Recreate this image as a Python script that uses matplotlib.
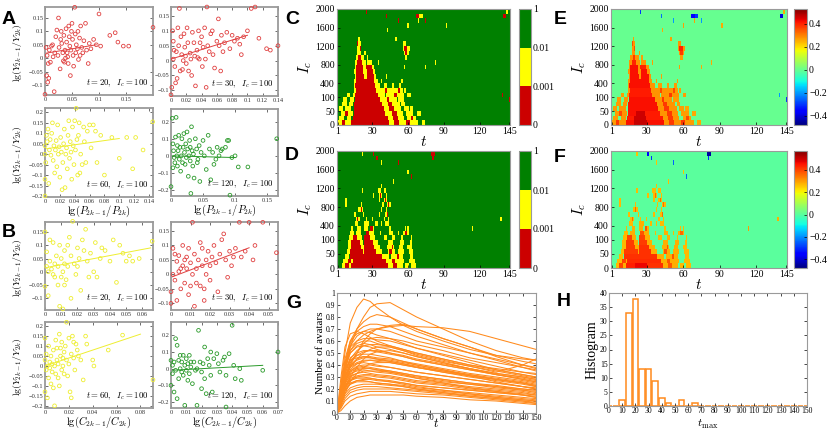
import numpy as np
import matplotlib
matplotlib.use("Agg")
import matplotlib.pyplot as plt
from matplotlib.colors import ListedColormap, BoundaryNorm, Normalize
from matplotlib.cm import ScalarMappable

plt.rcParams['font.family'] = ['Liberation Serif', 'DejaVu Serif']
plt.rcParams['mathtext.fontset'] = 'cm'

# ---------------- scatter data ----------------
A1 = [(0.000,-0.135),(0.017,-0.125),(0.005,-0.09),(0.007,-0.075),(0.003,-0.065),(0.002,0.04),(0.004,0.01),(0.006,-0.02),(0.01,-0.015),(0.012,0.045),(0.015,0.005),(0.018,0.02),(0.02,0.08),(0.022,0.105),(0.025,0.15),(0.026,0.04),(0.028,-0.04),(0.03,0.1),(0.031,0.055),(0.033,0.02),(0.034,-0.01),(0.035,0.085),(0.037,0.03),(0.038,0.0),(0.039,0.11),(0.04,0.06),(0.041,0.02),(0.042,0.005),(0.043,-0.02),(0.044,0.12),(0.045,0.08),(0.046,0.045),(0.047,-0.065),(0.048,0.03),(0.05,0.13),(0.051,0.07),(0.052,0.01),(0.053,-0.03),(0.055,0.19),(0.056,0.09),(0.058,0.05),(0.06,0.035),(0.061,0.1),(0.062,-0.005),(0.064,0.075),(0.066,0.12),(0.068,0.04),(0.07,0.02),(0.072,0.065),(0.075,0.13),(0.077,0.03),(0.08,-0.02),(0.082,0.055),(0.085,0.035),(0.09,0.07),(0.095,0.05),(0.1,0.165),(0.103,0.045),(0.12,0.085),(0.13,0.095),(0.135,0.06),(0.145,0.045),(0.155,0.045),(0.2,0.115),(0.008,0.03),(0.014,0.05),(0.024,0.01),(0.029,0.07),(0.036,-0.015),(0.049,0.1),(0.057,0.02),(0.065,0.01)]
A2 = [(0.0,-0.115),(0.001,-0.09),(0.002,0.1),(0.003,0.065),(0.004,0.035),(0.003,0.005),(0.005,-0.02),(0.006,-0.075),(0.008,-0.06),(0.007,0.03),(0.009,0.11),(0.01,0.05),(0.011,0.175),(0.012,-0.035),(0.013,0.08),(0.014,0.02),(0.015,-0.03),(0.016,0.0),(0.017,0.09),(0.018,0.045),(0.019,0.015),(0.02,-0.01),(0.021,0.11),(0.022,0.06),(0.023,-0.035),(0.025,0.025),(0.026,0.005),(0.027,-0.05),(0.028,0.095),(0.03,0.06),(0.031,0.015),(0.032,-0.085),(0.034,0.035),(0.035,0.01),(0.036,0.1),(0.037,0.005),(0.038,0.06),(0.04,0.08),(0.041,-0.02),(0.042,0.045),(0.044,0.11),(0.045,0.005),(0.046,-0.09),(0.047,0.18),(0.048,0.05),(0.05,0.03),(0.052,0.09),(0.054,0.1),(0.055,0.02),(0.057,-0.025),(0.06,0.065),(0.062,0.14),(0.063,0.05),(0.065,-0.035),(0.066,0.085),(0.068,0.03),(0.07,0.06),(0.073,0.095),(0.077,0.04),(0.08,0.085),(0.083,0.065),(0.087,0.075),(0.09,0.055),(0.092,0.02),(0.095,0.08),(0.1,0.1),(0.105,0.175),(0.11,0.18),(0.115,0.075),(0.125,0.04),(0.13,0.035),(0.14,0.05)]
A3 = [(0.0,-0.2),(0.0,-0.12),(0.0,0.04),(0.0,0.0),(0.001,-0.04),(0.002,0.09),(0.003,0.06),(0.004,0.12),(0.005,-0.14),(0.006,0.02),(0.007,0.07),(0.008,-0.005),(0.009,0.1),(0.01,0.15),(0.011,-0.03),(0.012,0.04),(0.013,-0.09),(0.014,0.02),(0.015,0.065),(0.016,-0.06),(0.017,0.14),(0.018,0.0),(0.019,0.035),(0.02,-0.11),(0.021,0.08),(0.022,0.01),(0.023,-0.17),(0.024,-0.04),(0.025,0.05),(0.026,0.12),(0.027,-0.16),(0.028,0.0),(0.029,0.03),(0.03,-0.07),(0.031,0.09),(0.032,0.16),(0.033,-0.02),(0.034,0.06),(0.035,0.01),(0.036,-0.12),(0.037,0.13),(0.038,0.04),(0.039,-0.05),(0.04,0.16),(0.041,0.02),(0.042,0.22),(0.043,0.07),(0.044,-0.1),(0.045,0.09),(0.046,0.15),(0.047,-0.09),(0.048,0.0),(0.05,-0.05),(0.052,0.13),(0.053,0.06),(0.055,-0.04),(0.057,0.11),(0.06,0.14),(0.062,0.03),(0.065,0.14),(0.068,0.11),(0.07,-0.04),(0.075,0.09),(0.08,-0.1),(0.09,0.08),(0.1,-0.02),(0.11,0.08),(0.118,-0.07),(0.122,0.08),(0.132,0.02),(0.145,0.155)]
A4 = [(0.0,-0.18),(0.002,0.22),(0.003,0.07),(0.004,0.03),(0.005,-0.01),(0.006,-0.04),(0.007,0.11),(0.008,0.225),(0.009,0.0),(0.01,-0.06),(0.011,0.03),(0.012,0.12),(0.013,-0.02),(0.014,0.05),(0.015,-0.09),(0.016,0.0),(0.017,0.1),(0.018,-0.04),(0.02,0.13),(0.021,0.02),(0.022,-0.05),(0.023,0.07),(0.024,-0.01),(0.025,0.14),(0.026,0.04),(0.027,-0.12),(0.028,0.0),(0.029,0.09),(0.03,-0.03),(0.031,-0.22),(0.032,0.17),(0.033,0.03),(0.034,-0.06),(0.035,0.01),(0.036,-0.13),(0.038,0.1),(0.04,0.04),(0.042,-0.02),(0.044,0.06),(0.045,-0.15),(0.047,0.02),(0.05,0.09),(0.052,0.0),(0.055,-0.08),(0.058,0.12),(0.06,0.04),(0.062,-0.14),(0.065,0.02),(0.067,-0.05),(0.07,-0.02),(0.072,0.05),(0.075,0.0),(0.078,0.03),(0.08,0.04),(0.085,0.05),(0.088,0.09),(0.09,0.09),(0.092,-0.23),(0.095,-0.01),(0.1,0.0),(0.105,-0.065),(0.12,-0.065),(0.165,0.1),(0.003,-0.07),(0.01,0.06),(0.019,0.05),(0.03,0.05),(0.041,-0.04)]
B1 = [(0.0,0.15),(0.0,-0.055),(0.001,0.075),(0.001,0.02),(0.002,-0.09),(0.002,0.0),(0.003,0.04),(0.004,0.01),(0.005,-0.01),(0.005,0.11),(0.006,0.03),(0.007,0.06),(0.008,-0.05),(0.008,0.02),(0.009,0.1),(0.009,-0.13),(0.01,0.05),(0.01,-0.02),(0.011,0.0),(0.011,-0.14),(0.012,0.08),(0.012,0.03),(0.013,-0.03),(0.014,0.02),(0.015,0.13),(0.016,0.06),(0.016,-0.1),(0.017,0.19),(0.018,0.03),(0.019,-0.01),(0.02,0.09),(0.021,0.05),(0.022,-0.07),(0.023,0.12),(0.024,0.08),(0.025,0.16),(0.026,0.04),(0.027,-0.02),(0.028,0.07),(0.03,0.0),(0.031,0.11),(0.032,-0.02),(0.034,0.05),(0.035,0.09),(0.037,0.08),(0.04,0.04),(0.042,0.12),(0.044,-0.04),(0.046,0.1),(0.048,0.07),(0.05,0.04),(0.052,0.06),(0.054,0.04),(0.058,0.05),(0.066,0.115),(0.003,0.12),(0.006,-0.02),(0.014,0.1),(0.02,0.02),(0.012,-0.05)]
B2 = [(0.0,-0.1),(0.0,-0.06),(0.001,0.09),(0.001,0.0),(0.002,0.07),(0.002,-0.02),(0.003,0.045),(0.003,-0.09),(0.004,0.01),(0.004,0.065),(0.005,-0.05),(0.006,0.03),(0.006,0.1),(0.007,-0.03),(0.008,0.06),(0.008,0.02),(0.009,-0.07),(0.009,0.09),(0.01,0.04),(0.01,-0.04),(0.011,0.0),(0.011,0.18),(0.012,0.07),(0.012,-0.11),(0.013,0.02),(0.014,0.05),(0.015,-0.04),(0.015,0.11),(0.016,0.09),(0.016,0.03),(0.017,-0.09),(0.018,0.0),(0.018,0.05),(0.019,0.08),(0.02,-0.02),(0.021,0.06),(0.022,0.1),(0.023,0.04),(0.024,-0.06),(0.025,0.07),(0.026,0.12),(0.027,0.14),(0.028,0.05),(0.029,-0.01),(0.03,0.08),(0.031,0.03),(0.032,0.06),(0.033,0.09),(0.035,0.18),(0.036,0.06),(0.038,0.08),(0.04,0.18),(0.042,0.05),(0.043,0.1),(0.047,0.18),(0.054,0.075),(0.005,0.02),(0.013,-0.03),(0.02,0.03),(0.007,0.05),(0.017,-0.05)]
B3 = [(0.0,0.14),(0.0,-0.13),(0.0,0.03),(0.001,-0.02),(0.001,0.06),(0.002,0.0),(0.002,-0.16),(0.003,0.1),(0.003,-0.06),(0.004,0.02),(0.005,-0.09),(0.005,0.05),(0.006,-0.03),(0.006,0.01),(0.007,0.08),(0.007,-0.11),(0.008,0.0),(0.008,-0.2),(0.009,0.13),(0.009,-0.04),(0.01,0.03),(0.01,0.09),(0.011,-0.06),(0.011,0.01),(0.012,0.16),(0.012,-0.1),(0.013,0.05),(0.014,-0.02),(0.014,0.12),(0.015,0.0),(0.016,0.07),(0.016,-0.04),(0.017,0.1),(0.018,0.22),(0.018,0.03),(0.019,-0.05),(0.02,0.14),(0.02,0.01),(0.021,-0.13),(0.022,0.06),(0.022,-0.16),(0.023,0.15),(0.024,0.04),(0.025,-0.02),(0.026,0.11),(0.027,0.08),(0.028,0.05),(0.03,0.03),(0.032,-0.07),(0.034,0.15),(0.035,0.11),(0.04,0.03),(0.041,0.0),(0.053,0.08),(0.065,0.155),(0.0905,-0.07),(0.015,0.04),(0.004,-0.01),(0.024,0.12),(0.013,0.09)]
B4 = [(0.0,0.05),(0.0,-0.1),(0.001,0.02),(0.001,-0.03),(0.002,-0.14),(0.002,0.04),(0.003,0.18),(0.003,-0.01),(0.004,0.14),(0.004,-0.18),(0.005,0.05),(0.005,-0.06),(0.006,0.0),(0.006,0.08),(0.007,-0.02),(0.007,0.04),(0.008,0.08),(0.008,-0.04),(0.009,-0.22),(0.009,0.02),(0.01,0.06),(0.01,-0.01),(0.011,0.03),(0.011,-0.07),(0.012,0.08),(0.012,-0.03),(0.013,0.01),(0.014,-0.09),(0.015,0.04),(0.016,-0.01),(0.017,0.0),(0.017,-0.22),(0.018,0.23),(0.019,0.04),(0.02,-0.12),(0.021,0.03),(0.022,0.13),(0.022,-0.06),(0.023,-0.15),(0.024,0.06),(0.025,0.02),(0.026,0.1),(0.026,-0.04),(0.027,-0.14),(0.028,0.06),(0.03,0.09),(0.031,0.03),(0.032,-0.02),(0.034,0.05),(0.035,0.07),(0.036,-0.04),(0.038,0.09),(0.04,0.26),(0.041,0.02),(0.042,-0.06),(0.045,0.0),(0.046,-0.07),(0.06,-0.01),(0.07,0.1),(0.036,-0.23),(0.013,0.04),(0.02,-0.02)]

# regression line end points
A1_fit = [(0.0, 0.018), (0.095, 0.05)]
A2_fit = [(0.0, 0.005), (0.1, 0.085)]
A3_fit = [(0.0, 0.025), (0.1, 0.075)]
A4_fit = [(0.0, 0.0), (0.1, -0.01)]
B1_fit = [(0.0, 0.015), (0.065, 0.09)]
B2_fit = [(0.0, -0.01), (0.04, 0.092)]
B3_fit = [(0.0, 0.0), (0.08, 0.16)]
B4_fit = [(0.0, -0.01), (0.06, 0.02)]

# ---------------- heatmap data ----------------
IC_TICK_LABELS = ['0', '50', '100', '400', '800', '1200', '1600', '2000']
IC_TICK_ROWS = [0, 3, 6, 9, 13, 17, 21, 25]
T_TICKS = [1, 30, 60, 90, 120, 145]
N_ROWS, N_T = 25, 145

# (t_start, t_end, significance class, correlation r)
C_SEGS = {
 0: [(2,4,'Y',.27),(5,7,'R',.38),(8,12,'Y',.28),(13,19,'R',.42),(20,30,'R',.47),(31,44,'R',.42),(45,48,'Y',.28),(49,52,'R',.38),(53,58,'Y',.28),(59,61,'R',.38),(62,68,'Y',.27),(72,74,'Y',.26)],
 1: [(3,6,'Y',.27),(9,12,'Y',.28),(14,19,'R',.41),(20,29,'R',.46),(30,43,'R',.41),(44,47,'Y',.28),(48,51,'R',.38),(52,56,'Y',.28),(60,62,'Y',.27),(63,64,'R',.36),(65,66,'Y',.27)],
 2: [(4,7,'Y',.27),(8,9,'R',.36),(10,13,'Y',.28),(15,21,'R',.42),(22,28,'R',.46),(29,40,'R',.41),(41,46,'Y',.28),(47,50,'R',.38),(51,55,'Y',.28),(59,64,'Y',.27),(68,70,'Y',.26)],
 3: [(3,5,'Y',.27),(8,12,'Y',.28),(15,39,'R',.42),(40,44,'Y',.28),(45,48,'R',.38),(49,54,'Y',.28),(57,60,'Y',.27),(62,64,'Y',.26)],
 4: [(5,8,'Y',.27),(11,13,'Y',.28),(15,38,'R',.42),(39,43,'Y',.28),(44,46,'R',.38),(47,53,'Y',.28),(55,57,'Y',.27)],
 5: [(6,8,'Y',.27),(12,14,'Y',.28),(16,36,'R',.42),(37,42,'Y',.28),(43,44,'R',.38),(45,50,'Y',.28),(52,56,'Y',.27),(145,145,'R',-.3)],
 6: [(9,11,'Y',.27),(14,15,'Y',.28),(16,34,'R',.41),(35,40,'Y',.28),(42,48,'Y',.28),(49,50,'R',.38),(51,56,'Y',.28),(60,62,'Y',.27),(139,139,'R',-.2)],
 7: [(15,16,'Y',.28),(17,33,'R',.41),(34,40,'Y',.28),(41,42,'R',.36),(43,51,'Y',.28),(52,53,'R',.36),(54,55,'Y',.27),(57,58,'Y',.27)],
 8: [(15,15,'Y',.28),(16,32,'R',.42),(33,36,'Y',.28),(40,42,'Y',.27),(47,48,'Y',.27),(53,54,'Y',.27)],
 9: [(15,16,'Y',.28),(17,31,'R',.42),(32,34,'Y',.28),(38,38,'Y',.27),(55,55,'Y',.27)],
 10: [(16,16,'Y',.28),(17,23,'R',.42),(24,25,'Y',.28),(26,31,'R',.42),(32,33,'Y',.28),(42,42,'Y',.27)],
 11: [(15,16,'Y',.28),(17,22,'R',.42),(23,25,'Y',.28),(26,30,'R',.42),(31,32,'Y',.28)],
 12: [(16,16,'Y',.28),(17,22,'R',.42),(23,24,'Y',.28),(25,29,'R',.4),(30,31,'Y',.28),(57,57,'Y',.27),(75,75,'Y',.26)],
 13: [(16,17,'Y',.28),(18,21,'R',.4),(22,24,'Y',.28),(26,29,'Y',.28),(35,35,'Y',.27),(83,83,'Y',.26)],
 14: [(17,18,'Y',.28),(19,20,'R',.38),(21,23,'Y',.28),(26,26,'Y',.27),(58,59,'Y',.27)],
 15: [(18,20,'Y',.28),(24,24,'Y',.27),(57,57,'Y',.28),(58,59,'R',.38),(60,60,'Y',.28)],
 16: [(18,19,'Y',.28),(20,20,'R',.36),(56,56,'Y',.28),(57,59,'R',.4),(60,61,'Y',.28)],
 17: [(18,18,'R',.36),(19,20,'Y',.28),(56,58,'Y',.28)],
 18: [(19,19,'Y',.27),(50,50,'Y',.27)],
 20: [(43,43,'Y',.26)],
 21: [(60,60,'Y',.27),(92,92,'Y',.26)],
 22: [(52,52,'R',-.2),(69,69,'Y',.27),(75,75,'R',-.2)],
 23: [(42,42,'R',-.25),(67,69,'R',-.35),(70,72,'Y',-.3),(140,142,'R',-.4)],
 24: [(25,25,'R',-.3),(143,143,'Y',.26)],
}
D_SEGS = {
 0: [(5,7,'Y',.27),(8,10,'R',.4),(11,12,'Y',.28),(13,20,'R',.44),(21,30,'R',.47),(31,43,'R',.42),(44,47,'Y',.28),(48,50,'R',.38),(51,55,'Y',.28),(58,60,'Y',.27),(63,66,'Y',.27)],
 1: [(6,9,'Y',.27),(10,12,'R',.4),(13,13,'Y',.28),(14,41,'R',.43),(42,46,'Y',.28),(47,49,'R',.38),(50,56,'Y',.28),(61,65,'Y',.27)],
 2: [(8,10,'Y',.27),(12,38,'R',.42),(39,44,'Y',.28),(46,50,'Y',.28),(51,52,'R',.38),(53,55,'Y',.28),(62,64,'Y',.27)],
 3: [(9,11,'Y',.27),(12,22,'R',.41),(23,23,'Y',.28),(24,33,'R',.42),(34,38,'Y',.28),(44,44,'Y',.28),(45,46,'R',.38),(47,49,'Y',.28),(52,56,'Y',.28),(61,64,'Y',.27)],
 4: [(10,12,'Y',.27),(13,20,'R',.41),(21,23,'Y',.28),(24,31,'R',.42),(32,36,'Y',.28),(43,46,'Y',.28),(47,47,'R',.38),(48,48,'Y',.28),(53,55,'Y',.28),(60,63,'Y',.27)],
 5: [(10,12,'Y',.27),(13,19,'R',.41),(20,22,'Y',.28),(24,30,'R',.41),(31,34,'Y',.28),(44,47,'Y',.28),(54,56,'Y',.28),(62,63,'Y',.27)],
 6: [(11,13,'Y',.27),(14,17,'R',.4),(18,21,'Y',.28),(24,28,'R',.4),(29,32,'Y',.28),(40,42,'Y',.27),(47,49,'Y',.28),(55,55,'Y',.27),(63,63,'Y',.27)],
 7: [(12,14,'Y',.27),(17,20,'Y',.28),(25,27,'R',.38),(28,31,'Y',.28),(37,37,'Y',.27),(45,47,'Y',.28),(52,52,'Y',.27),(56,57,'Y',.28),(58,59,'R',.36),(60,60,'Y',.28)],
 8: [(13,13,'Y',.27),(18,20,'Y',.28),(24,26,'Y',.28),(29,30,'R',.38),(31,31,'Y',.28),(45,45,'Y',.27),(58,58,'Y',.27),(60,60,'Y',.27),(114,114,'Y',.3)],
 9: [(16,18,'Y',.27),(24,27,'Y',.28),(33,34,'Y',.27),(38,38,'Y',.27),(41,44,'Y',.27)],
 10: [(17,17,'Y',.27),(18,18,'R',.36),(19,19,'Y',.27),(25,25,'Y',.27),(30,30,'Y',.27),(40,40,'Y',.27),(44,44,'Y',.27),(138,138,'Y',.28)],
 11: [(15,16,'Y',.27),(23,23,'Y',.27),(36,36,'Y',.27),(41,42,'Y',.27),(43,43,'R',.36)],
 12: [(19,20,'Y',.27),(21,21,'R',.36),(22,22,'Y',.27),(38,38,'Y',.27),(42,42,'Y',.27)],
 13: [(8,8,'Y',.27),(21,21,'Y',.27),(39,39,'Y',.27),(43,43,'Y',.27),(44,44,'R',.36),(45,45,'Y',.27)],
 14: [(8,8,'Y',.27),(36,36,'Y',.27),(40,40,'Y',.27),(41,41,'R',.36),(42,42,'Y',.27)],
 15: [(31,31,'Y',.27),(36,36,'Y',.27),(37,37,'R',.36),(38,38,'Y',.27),(42,42,'Y',.27)],
 16: [(22,22,'Y',.27),(35,37,'Y',.27),(40,41,'Y',.27)],
 17: [(38,38,'Y',.27)],
 18: [(48,48,'Y',.27)],
 19: [(63,63,'R',-.25)],
 20: [(60,60,'Y',.26)],
 22: [(38,38,'Y',.26),(52,52,'R',-.25)],
 23: [(34,34,'R',-.3),(81,81,'R',-.3)],
 24: [(22,22,'Y',.26),(31,31,'R',-.35),(80,82,'R',-.45)],
}

# ---------------- G: curves ----------------
G_T = [0, 3, 6, 10, 15, 20, 25, 30, 40, 50, 60, 80, 100, 120, 140, 150]
G_CURVES = [
 [0,0.25,0.5,0.75,0.88,0.95,0.93,0.88,0.8,0.73,0.68,0.6,0.53,0.48,0.45,0.44],
 [0,0.15,0.35,0.55,0.7,0.8,0.88,0.91,0.92,0.86,0.8,0.7,0.6,0.52,0.46,0.44],
 [0,0.2,0.38,0.52,0.6,0.65,0.68,0.7,0.72,0.73,0.72,0.71,0.68,0.62,0.56,0.53],
 [0,0.2,0.42,0.6,0.7,0.76,0.8,0.82,0.8,0.75,0.7,0.62,0.55,0.48,0.43,0.41],
 [0,0.18,0.4,0.58,0.68,0.72,0.74,0.74,0.72,0.68,0.64,0.57,0.5,0.44,0.38,0.36],
 [0,0.22,0.45,0.6,0.66,0.68,0.67,0.65,0.62,0.6,0.57,0.52,0.46,0.42,0.38,0.35],
 [0,0.2,0.4,0.55,0.6,0.62,0.62,0.61,0.6,0.57,0.54,0.49,0.44,0.39,0.34,0.32],
 [0,0.18,0.38,0.52,0.58,0.6,0.6,0.58,0.55,0.52,0.49,0.44,0.39,0.35,0.31,0.29],
 [0,0.15,0.32,0.45,0.52,0.56,0.57,0.57,0.56,0.53,0.5,0.45,0.4,0.36,0.32,0.3],
 [0,0.2,0.38,0.5,0.55,0.56,0.55,0.53,0.5,0.47,0.44,0.4,0.36,0.32,0.29,0.27],
 [0,0.18,0.35,0.46,0.5,0.52,0.52,0.51,0.49,0.47,0.44,0.4,0.36,0.32,0.28,0.26],
 [0,0.14,0.3,0.42,0.48,0.51,0.52,0.52,0.5,0.48,0.45,0.41,0.37,0.33,0.3,0.28],
 [0,0.17,0.33,0.44,0.48,0.49,0.49,0.48,0.46,0.43,0.41,0.37,0.33,0.3,0.27,0.25],
 [0,0.2,0.36,0.44,0.46,0.47,0.46,0.45,0.43,0.41,0.38,0.34,0.31,0.28,0.25,0.23],
 [0,0.15,0.3,0.4,0.44,0.46,0.46,0.45,0.44,0.42,0.4,0.36,0.32,0.29,0.26,0.24],
 [0,0.16,0.3,0.39,0.42,0.44,0.44,0.43,0.42,0.4,0.38,0.35,0.31,0.28,0.25,0.23],
 [0,0.12,0.26,0.36,0.41,0.43,0.44,0.44,0.43,0.41,0.39,0.35,0.32,0.28,0.25,0.22],
 [0,0.17,0.31,0.38,0.41,0.42,0.41,0.4,0.38,0.36,0.34,0.31,0.28,0.25,0.22,0.21],
 [0,0.14,0.27,0.35,0.39,0.4,0.4,0.39,0.38,0.36,0.34,0.31,0.28,0.25,0.22,0.2],
 [0,0.15,0.28,0.35,0.38,0.39,0.38,0.37,0.35,0.33,0.31,0.28,0.25,0.22,0.2,0.19],
 [0,0.12,0.24,0.32,0.36,0.37,0.37,0.36,0.35,0.33,0.31,0.28,0.25,0.23,0.2,0.19],
 [0,0.14,0.26,0.33,0.35,0.36,0.35,0.34,0.33,0.31,0.29,0.26,0.24,0.21,0.19,0.18],
 [0,0.1,0.22,0.3,0.33,0.35,0.35,0.35,0.34,0.32,0.3,0.27,0.24,0.22,0.19,0.17],
 [0,0.13,0.25,0.31,0.33,0.34,0.33,0.32,0.31,0.29,0.27,0.25,0.22,0.2,0.18,0.16],
 [0,0.12,0.23,0.29,0.31,0.32,0.32,0.31,0.3,0.28,0.26,0.24,0.21,0.19,0.17,0.15],
 [0,0.1,0.2,0.27,0.3,0.31,0.31,0.3,0.29,0.27,0.25,0.23,0.2,0.18,0.16,0.15],
 [0,0.11,0.21,0.27,0.29,0.29,0.29,0.28,0.27,0.25,0.23,0.21,0.19,0.17,0.15,0.14],
 [0,0.09,0.18,0.24,0.27,0.28,0.28,0.27,0.26,0.25,0.23,0.21,0.19,0.17,0.15,0.13],
 [0,0.1,0.19,0.24,0.26,0.26,0.26,0.25,0.24,0.23,0.21,0.19,0.17,0.15,0.13,0.12],
 [0,0.08,0.16,0.21,0.23,0.24,0.24,0.24,0.23,0.22,0.2,0.18,0.16,0.14,0.12,0.11],
 [0,0.07,0.14,0.19,0.21,0.22,0.22,0.22,0.21,0.2,0.19,0.17,0.15,0.13,0.11,0.1],
 [0,0.05,0.12,0.17,0.19,0.2,0.2,0.2,0.2,0.19,0.18,0.16,0.14,0.12,0.1,0.09],
 [0,0.04,0.1,0.14,0.16,0.17,0.18,0.18,0.18,0.17,0.16,0.15,0.13,0.11,0.09,0.08],
 [0,0.02,0.06,0.1,0.13,0.14,0.15,0.15,0.15,0.15,0.14,0.13,0.11,0.1,0.08,0.07],
 [0,0.1,0.25,0.4,0.5,0.6,0.66,0.7,0.73,0.74,0.7,0.62,0.55,0.47,0.4,0.37],
 [0,0.12,0.28,0.42,0.5,0.58,0.62,0.63,0.62,0.58,0.54,0.48,0.42,0.36,0.32,0.3],
 [0,0.08,0.2,0.3,0.38,0.45,0.49,0.51,0.52,0.5,0.47,0.42,0.37,0.33,0.3,0.28],
 [0,0.06,0.16,0.26,0.33,0.38,0.41,0.42,0.42,0.4,0.38,0.34,0.3,0.27,0.24,0.22],
 [0,0.3,0.55,0.66,0.68,0.66,0.63,0.6,0.56,0.53,0.5,0.45,0.4,0.37,0.34,0.33],
 [0,0.12,0.27,0.38,0.45,0.5,0.53,0.55,0.55,0.52,0.48,0.43,0.39,0.34,0.4,0.45],
 [0,0.2,0.4,0.56,0.64,0.68,0.7,0.7,0.68,0.64,0.6,0.55,0.5,0.45,0.4,0.38],
 [0,0.18,0.36,0.5,0.56,0.58,0.57,0.55,0.53,0.5,0.47,0.42,0.37,0.32,0.28,0.26],
 [0,0.13,0.26,0.34,0.37,0.38,0.37,0.36,0.34,0.32,0.29,0.25,0.21,0.18,0.15,0.13],
 [0,0.11,0.22,0.28,0.3,0.3,0.29,0.28,0.26,0.24,0.22,0.19,0.16,0.13,0.11,0.1],
 [0,0.09,0.19,0.25,0.27,0.27,0.26,0.25,0.24,0.22,0.2,0.17,0.14,0.12,0.1,0.08],
 [0,0.15,0.3,0.4,0.45,0.47,0.47,0.46,0.45,0.43,0.4,0.36,0.31,0.26,0.22,0.2],
]

# ---------------- H: histogram ----------------
H_CENTERS = list(range(0, 151, 5))
H_COUNTS = [0, 0, 2, 33, 38, 13, 13, 9, 3, 1, 0, 2, 0, 1] + [0] * 17

# ---------------- colours ----------------
RED = '#e04040'
YEL = '#eeee30'
GRN = '#2a9a2a'
ORANGE = '#ff8a1c'
FRAME = '#9a9a9a'

W, H = 830, 432
fig = plt.figure(figsize=(W / 100, H / 100), dpi=100)


def add_ax(x0, y0, x1, y1):
    return fig.add_axes([x0 / W, 1 - y1 / H, (x1 - x0) / W, (y1 - y0) / H])


def fmt(v):
    s = '%g' % round(v, 4)
    return s.replace('-', '\u2212')


def style_frame(ax, lw=1.0, color=FRAME):
    for sp in ax.spines.values():
        sp.set_color(color)
        sp.set_linewidth(lw)


def scatter_panel(box, pts, fit, color, xlim, ylim, xticks, yticks, tlabel,
                  ylabel=None, xlabel=None):
    ax = add_ax(*box)
    xs = [p[0] for p in pts]
    ys = [p[1] for p in pts]
    ax.scatter(xs, ys, s=7, facecolors='none', edgecolors=color,
               linewidths=0.6, clip_on=False, zorder=3)
    ax.plot([fit[0][0], fit[1][0]], [fit[0][1], fit[1][1]], color=color, lw=0.7)
    ax.set_xlim(*xlim)
    ax.set_ylim(*ylim)
    ax.set_xticks(xticks)
    ax.set_xticklabels([fmt(v) for v in xticks])
    ax.set_yticks(yticks)
    ax.set_yticklabels([fmt(v) for v in yticks])
    ax.tick_params(direction='in', length=2, width=0.5, labelsize=4.6, pad=1.2,
                   top=True, right=True, colors='#333333')
    style_frame(ax, lw=1.3)
    ax.text(0.96, 0.07, tlabel, transform=ax.transAxes, ha='right', va='bottom',
            fontsize=6.3)
    if ylabel:
        ax.set_ylabel(ylabel, fontsize=7)
        ax.yaxis.set_label_coords(-0.19, 0.48)
    if xlabel:
        ax.set_xlabel(xlabel, fontsize=7.5, labelpad=0)
    return ax


YLAB = r'$\lg(Y_{2k-1}/Y_{2k})$'
XLAB_P = r'$\lg(P_{2k-1}/P_{2k})$'
XLAB_C = r'$\lg(C_{2k-1}/C_{2k})$'
yt1 = [-0.1, -0.05, 0, 0.05, 0.1, 0.15]
yt3 = [-0.2, -0.15, -0.1, -0.05, 0, 0.05, 0.1, 0.15, 0.2]
yt4 = [-0.2, -0.1, 0, 0.1, 0.2]

scatter_panel((45, 7, 153, 95), A1, A1_fit, RED, (0, 0.2), (-0.1375, 0.191),
              [0, 0.05, 0.1, 0.15], yt1, r'$t=20,\ \ I_c=100$', ylabel=YLAB)
scatter_panel((171, 7, 278, 96), A2, A2_fit, RED, (0, 0.14), (-0.119, 0.18),
              [0, 0.02, 0.04, 0.06, 0.08, 0.1, 0.12, 0.14], yt1, r'$t=30,\ \ I_c=100$')
scatter_panel((45, 108, 153, 197), A3, A3_fit, YEL, (0, 0.1454), (-0.205, 0.221),
              [0, 0.02, 0.04, 0.06, 0.08, 0.1, 0.12, 0.14], yt3, r'$t=60,\ \ I_c=100$',
              ylabel=YLAB, xlabel=XLAB_P)
scatter_panel((171, 109, 278, 196), A4, A4_fit, GRN, (0, 0.167), (-0.235, 0.274),
              [0, 0.05, 0.1, 0.15], yt4, r'$t=120,\ \ I_c=100$', xlabel=XLAB_P)
scatter_panel((45, 222, 153, 310), B1, B1_fit, YEL, (0, 0.0665), (-0.144, 0.1875),
              [0, 0.01, 0.02, 0.03, 0.04, 0.05, 0.06], yt1, r'$t=20,\ \ I_c=100$', ylabel=YLAB)
scatter_panel((171, 222, 278, 310), B2, B2_fit, RED, (0, 0.0548), (-0.123, 0.181),
              [0, 0.01, 0.02, 0.03, 0.04, 0.05], yt1, r'$t=30,\ \ I_c=100$')
scatter_panel((45, 322, 153, 408), B3, B3_fit, YEL, (0, 0.0905), (-0.211, 0.221),
              [0, 0.02, 0.04, 0.06, 0.08], yt3, r'$t=60,\ \ I_c=100$',
              ylabel=YLAB, xlabel=XLAB_C)
scatter_panel((171, 322, 278, 408), B4, B4_fit, GRN, (0, 0.07), (-0.236, 0.28),
              [0, 0.01, 0.02, 0.03, 0.04, 0.05, 0.06, 0.07], yt4, r'$t=120,\ \ I_c=100$',
              xlabel=XLAB_C)


# ---------------- heatmaps ----------------
def build_grid(segs):
    cls = np.full((N_ROWS, N_T), 2)
    rv = np.zeros((N_ROWS, N_T))
    for row, lst in segs.items():
        for t0, t1, c, r in lst:
            cls[row, t0 - 1:t1] = 0 if c == 'R' else 1
            rv[row, t0 - 1:t1] = r
    return cls, rv


t_edges = np.arange(N_T + 1) + 0.5
r_edges = np.arange(N_ROWS + 1)
P_CMAP = ListedColormap(['#cc0000', '#ffff00', '#008000'])
P_NORM = BoundaryNorm([-0.5, 0.5, 1.5, 2.5], 3)


def heat_axes(ax):
    ax.set_xlim(0.5, N_T + 0.5)
    ax.set_ylim(0, N_ROWS)
    ax.set_xticks(T_TICKS)
    ax.set_xticklabels([str(v) for v in T_TICKS])
    ax.set_yticks(IC_TICK_ROWS)
    ax.set_yticklabels(IC_TICK_LABELS)
    ax.tick_params(direction='in', length=2, width=0.5, labelsize=7, pad=1.5)
    style_frame(ax, lw=0.8)
    ax.set_ylabel(r'$I_c$', fontsize=11, labelpad=1)
    ax.set_xlabel(r'$t$', fontsize=11, labelpad=-1)


def p_colorbar(box):
    cax = add_ax(*box)
    sm = ScalarMappable(norm=BoundaryNorm([0, 1, 2, 3], 3), cmap=P_CMAP)
    cb = fig.colorbar(sm, cax=cax, ticks=[0, 1, 2, 3])
    cb.ax.set_yticklabels(['0', '0.001', '0.01', '1'])
    cb.ax.tick_params(length=0, labelsize=7, pad=1.5)
    cb.outline.set_edgecolor(FRAME)
    cb.outline.set_linewidth(0.8)


def r_colorbar(box, vmin, vmax):
    cax = add_ax(*box)
    sm = ScalarMappable(norm=Normalize(vmin, vmax), cmap='jet')
    cb = fig.colorbar(sm, cax=cax, ticks=[-0.4, -0.2, 0, 0.2, 0.4])
    cb.ax.set_yticklabels([fmt(v) for v in [-0.4, -0.2, 0, 0.2, 0.4]])
    cb.ax.tick_params(direction='in', length=2, width=0.5, labelsize=7, pad=1.5)
    cb.outline.set_edgecolor(FRAME)
    cb.outline.set_linewidth(0.8)


for segs, hbox, cbox, ebox, ecbox, (vmin, vmax) in [
        (C_SEGS, (337, 9, 510, 125), (519, 9, 531, 125), (611, 9, 787, 125), (794, 9, 807, 125), (-0.48, 0.53)),
        (D_SEGS, (337, 151, 510, 268), (519, 151, 531, 268), (611, 151, 787, 268), (794, 151, 807, 268), (-0.48, 0.57))]:
    cls, rv = build_grid(segs)
    ax = add_ax(*hbox)
    ax.pcolormesh(t_edges, r_edges, cls, cmap=P_CMAP, norm=P_NORM)
    heat_axes(ax)
    p_colorbar(cbox)
    ax = add_ax(*ebox)
    ax.pcolormesh(t_edges, r_edges, rv, cmap='jet', vmin=vmin, vmax=vmax)
    heat_axes(ax)
    r_colorbar(ecbox, vmin, vmax)

# ---------------- G ----------------
ax = add_ax(337, 293, 536, 413)
for cv in G_CURVES:
    ax.plot(G_T, cv, color=ORANGE, lw=0.75)
ax.set_xlim(0, 150)
ax.set_ylim(0, 1)
ax.set_xticks(range(0, 151, 10))
ax.set_yticks(np.arange(0, 1.01, 0.1))
ax.set_yticklabels([fmt(v) for v in np.arange(0, 1.01, 0.1)])
ax.tick_params(direction='in', length=2, width=0.5, labelsize=5.5, pad=1.0,
               top=True, right=True)
style_frame(ax, lw=0.8)
ax.set_ylabel('Number of avatars', fontsize=8, labelpad=1)
fig.text(436 / W, 1 - 430 / H, r'$t$', fontsize=9, ha='center', va='bottom')

# ---------------- H ----------------
ax = add_ax(609, 293, 807, 406)
ax.bar(H_CENTERS, H_COUNTS, width=4.2, facecolor='white', edgecolor=ORANGE,
       linewidth=1.1)
ax.set_xlim(0, 150)
ax.set_ylim(0, 40)
ax.set_xticks(range(0, 151, 10))
ax.set_yticks(range(0, 41, 5))
ax.tick_params(direction='in', length=2, width=0.5, labelsize=5.5, pad=1.0,
               top=True, right=True)
style_frame(ax, lw=0.8)
ax.set_ylabel('Histogram', fontsize=10, labelpad=1)
fig.text(708 / W, 1 - 431 / H, r'$t_{\max}$', fontsize=8.5, ha='center', va='bottom')

# ---------------- panel letters ----------------
for letter, (px, py) in {'A': (9, 19), 'B': (9, 232), 'C': (292, 19), 'D': (292, 156),
                         'E': (560, 19), 'F': (560, 157), 'G': (294, 303), 'H': (564, 302)}.items():
    fig.text(px / W, 1 - py / H, letter, fontsize=14, fontweight='bold',
             family=['Liberation Sans', 'DejaVu Sans'], ha='center', va='center')

fig.savefig('out.png', dpi=100)
